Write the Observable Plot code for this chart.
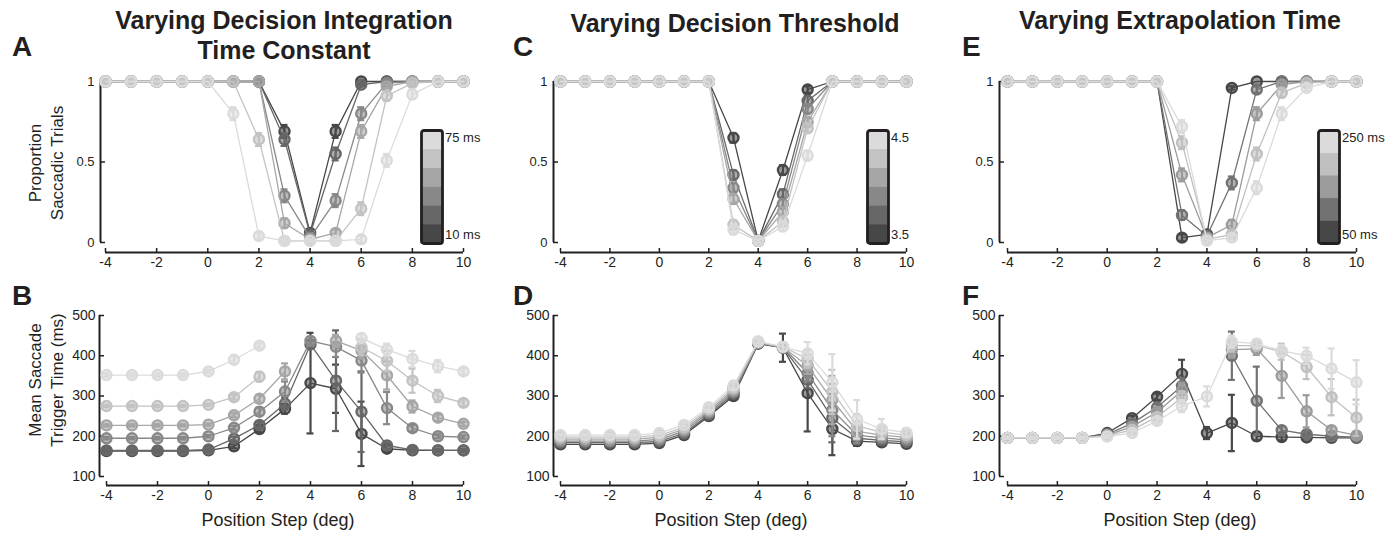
<!DOCTYPE html>
<html>
<head>
<meta charset="utf-8">
<script src="https://cdn.jsdelivr.net/npm/d3@7"></script>
<script src="https://cdn.jsdelivr.net/npm/@observablehq/plot@0.6"></script>
<style>
  html, body { margin: 0; padding: 0; background: #fff; }
  #fig { position: relative; width: 1399px; height: 533px; overflow: hidden; background: #fff;
         font-family: "Liberation Sans", Arial, Helvetica, sans-serif; color: #231f20; }
  #fig svg { position: absolute; overflow: visible; }
  .t { position: absolute; white-space: nowrap; }
</style>
</head>
<body>
<div id="fig"></div>
<script>
// ---------------- DATA ----------------
const positionSteps = [-4, -3, -2, -1, 0, 1, 2, 3, 4, 5, 6, 7, 8, 9, 10];
const xTicks = [-4, -2, 0, 2, 4, 6, 8, 10];
const propTicks = [0, 0.5, 1];
const timeTicks = [100, 200, 300, 400, 500];

const titles = ["Varying Decision Integration<br>Time Constant", "Varying Decision Threshold", "Varying Extrapolation Time"];
const panelLetters = ["A", "B", "C", "D", "E", "F"];
const legendA = ["75 ms", "10 ms"];
const legendC = ["4.5", "3.5"];
const legendE = ["250 ms", "50 ms"];

// grays, dark -> light
const grays6 = ["#474747", "#676767", "#888888", "#a6a6a6", "#c3c3c3", "#dbdbdb"];
const grays5 = ["#474747", "#727272", "#9b9b9b", "#c0c0c0", "#dbdbdb"];

// Panel A: proportion saccadic trials, integration time constant 10 ms (dark) ... 75 ms (light)
const propA = [
  [1, 1, 1, 1, 1, 1, 1, 0.69, 0.06, 0.69, 1.00, 1.00, 1, 1, 1],
  [1, 1, 1, 1, 1, 1, 1, 0.64, 0.05, 0.55, 0.98, 1.00, 1, 1, 1],
  [1, 1, 1, 1, 1, 1, 1, 0.29, 0.03, 0.26, 0.80, 0.99, 1, 1, 1],
  [1, 1, 1, 1, 1, 1, 1, 0.12, 0.02, 0.06, 0.69, 0.97, 1, 1, 1],
  [1, 1, 1, 1, 1, 1, 0.64, 0.01, 0.01, 0.01, 0.21, 0.91, 0.99, 1, 1],
  [1, 1, 1, 1, 1, 0.80, 0.04, 0.01, 0.01, 0.01, 0.02, 0.51, 0.92, 1, 1]
];
const propAErr = [
  [0, 0, 0, 0, 0, 0, 0, 0.04, 0.02, 0.04, 0, 0, 0, 0, 0],
  [0, 0, 0, 0, 0, 0, 0, 0.04, 0.02, 0.04, 0.01, 0, 0, 0, 0],
  [0, 0, 0, 0, 0, 0, 0, 0.04, 0.01, 0.04, 0.04, 0.01, 0, 0, 0],
  [0, 0, 0, 0, 0, 0, 0, 0.03, 0.01, 0.02, 0.04, 0.01, 0, 0, 0],
  [0, 0, 0, 0, 0, 0, 0.04, 0.01, 0.01, 0.01, 0.04, 0.03, 0.01, 0, 0],
  [0, 0, 0, 0, 0, 0.04, 0.02, 0.01, 0.01, 0.01, 0.02, 0.04, 0.03, 0, 0]
];
// Panel B: mean saccade trigger time (ms)
const timeB = [
  [163, 163, 163, 163, 165, 175, 218, 268, 332, 318, 206, 169, 165, 165, 165],
  [165, 165, 165, 165, 167, 194, 228, 281, 428, 338, 261, 177, 166, 165, 165],
  [195, 195, 195, 195, 200, 221, 261, 311, 437, 422, 388, 270, 220, 200, 198],
  [227, 227, 227, 227, 229, 252, 293, 361, null, 437, 413, 351, 274, 246, 231],
  [275, 275, 275, 275, 278, 297, 348, null, null, null, 421, 387, 338, 300, 283],
  [352, 352, 352, 352, 361, 390, 425, null, null, null, 444, 415, 392, 374, 361]
];
const timeBErr = [
  [3, 3, 3, 3, 3, 5, 8, 12, 125, 60, 80, 8, 4, 3, 3],
  [3, 3, 3, 3, 3, 5, 8, 15, 10, 125, 100, 10, 4, 3, 3],
  [3, 3, 3, 3, 3, 5, 10, 25, 10, 25, 30, 40, 8, 5, 4],
  [3, 3, 3, 3, 3, 5, 10, 20, null, 15, 20, 35, 15, 8, 5],
  [3, 3, 3, 3, 3, 6, 12, null, null, null, 20, 25, 30, 15, 8],
  [4, 4, 4, 4, 4, 10, 5, null, null, null, 10, 15, 20, 15, 8]
];
// Panel C: decision threshold 3.5 (dark) ... 4.5 (light)
const propC = [
  [1, 1, 1, 1, 1, 1, 1, 0.65, 0.01, 0.45, 0.95, 1, 1, 1, 1],
  [1, 1, 1, 1, 1, 1, 1, 0.42, 0.01, 0.30, 0.88, 1, 1, 1, 1],
  [1, 1, 1, 1, 1, 1, 1, 0.34, 0.01, 0.24, 0.83, 1, 1, 1, 1],
  [1, 1, 1, 1, 1, 1, 1, 0.27, 0.01, 0.19, 0.75, 1, 1, 1, 1],
  [1, 1, 1, 1, 1, 1, 1, 0.11, 0.01, 0.13, 0.71, 1, 1, 1, 1],
  [1, 1, 1, 1, 1, 1, 1, 0.08, 0.01, 0.10, 0.54, 1, 1, 1, 1]
];
const propCErr = [
  [0, 0, 0, 0, 0, 0, 0, 0.03, 0.01, 0.03, 0.02, 0, 0, 0, 0],
  [0, 0, 0, 0, 0, 0, 0, 0.03, 0.01, 0.03, 0.03, 0, 0, 0, 0],
  [0, 0, 0, 0, 0, 0, 0, 0.03, 0.01, 0.03, 0.03, 0, 0, 0, 0],
  [0, 0, 0, 0, 0, 0, 0, 0.03, 0.01, 0.03, 0.03, 0, 0, 0, 0],
  [0, 0, 0, 0, 0, 0, 0, 0.03, 0.01, 0.03, 0.03, 0, 0, 0, 0],
  [0, 0, 0, 0, 0, 0, 0, 0.03, 0.01, 0.03, 0.03, 0, 0, 0, 0]
];
// Panel D
const timeD = [
  [180, 180, 180, 180, 183, 203, 250, 300, 430, 420, 307, 218, 188, 185, 181],
  [184, 184, 184, 184, 187, 207, 254, 305, 431, 420, 340, 245, 195, 190, 186],
  [188, 188, 188, 188, 192, 212, 259, 310, 432, 421, 357, 265, 203, 196, 191],
  [193, 193, 193, 193, 197, 217, 263, 315, 433, 421, 375, 290, 212, 203, 197],
  [198, 198, 198, 198, 202, 222, 267, 320, 434, 422, 392, 310, 225, 210, 203],
  [203, 203, 203, 203, 208, 228, 272, 326, 436, 422, 406, 334, 242, 218, 209]
];
const timeDErr = [
  [3, 3, 3, 3, 3, 4, 6, 8, 6, 35, 95, 65, 12, 8, 5],
  [3, 3, 3, 3, 3, 4, 6, 8, 5, 10, 20, 60, 15, 10, 5],
  [3, 3, 3, 3, 3, 4, 6, 8, 5, 10, 20, 65, 20, 10, 6],
  [3, 3, 3, 3, 3, 4, 6, 8, 5, 10, 20, 60, 20, 12, 6],
  [3, 3, 3, 3, 3, 4, 6, 8, 5, 10, 22, 55, 30, 15, 8],
  [3, 3, 3, 3, 3, 4, 6, 8, 5, 10, 28, 70, 48, 25, 10]
];
// Panel E: extrapolation time 50 ms (dark) ... 250 ms (light)
const propE = [
  [1, 1, 1, 1, 1, 1, 1, 0.03, 0.05, 0.96, 1.00, 1.00, 1.00, 1, 1],
  [1, 1, 1, 1, 1, 1, 1, 0.17, 0.04, 0.37, 0.95, 1.00, 1.00, 1, 1],
  [1, 1, 1, 1, 1, 1, 1, 0.42, 0.03, 0.11, 0.80, 0.98, 1.00, 1, 1],
  [1, 1, 1, 1, 1, 1, 1, 0.62, 0.02, 0.05, 0.55, 0.93, 0.99, 1, 1],
  [1, 1, 1, 1, 1, 1, 1, 0.72, 0.01, 0.03, 0.34, 0.80, 0.96, 1, 1]
];
const propEErr = [
  [0, 0, 0, 0, 0, 0, 0, 0.02, 0.02, 0.01, 0, 0, 0, 0, 0],
  [0, 0, 0, 0, 0, 0, 0, 0.03, 0.02, 0.04, 0.02, 0, 0, 0, 0],
  [0, 0, 0, 0, 0, 0, 0, 0.04, 0.02, 0.03, 0.04, 0.01, 0, 0, 0],
  [0, 0, 0, 0, 0, 0, 0, 0.04, 0.01, 0.02, 0.04, 0.03, 0.01, 0, 0],
  [0, 0, 0, 0, 0, 0, 0, 0.04, 0.01, 0.02, 0.04, 0.04, 0.02, 0, 0]
];
// Panel F
const timeF = [
  [196, 196, 196, 196, 208, 245, 298, 355, 208, 233, 200, 198, 197, 196, 196],
  [196, 196, 196, 196, 205, 232, 272, 325, null, 400, 288, 215, 205, 200, 198],
  [196, 196, 196, 196, 203, 224, 260, 313, null, 415, 417, 350, 262, 215, 202],
  [196, 196, 196, 196, 201, 216, 248, 297, null, 425, 425, 410, 372, 297, 246],
  [196, 196, 196, 196, 199, 208, 238, 275, 299, 435, 430, 412, 400, 368, 334]
];
const timeFErr = [
  [3, 3, 3, 3, 4, 6, 8, 35, 15, 70, 10, 8, 5, 4, 3],
  [3, 3, 3, 3, 4, 6, 8, 20, null, 60, 85, 10, 6, 5, 4],
  [3, 3, 3, 3, 4, 6, 8, 20, null, 20, 15, 55, 40, 10, 6],
  [3, 3, 3, 3, 4, 6, 8, 15, null, 15, 10, 20, 30, 45, 45],
  [3, 3, 3, 3, 4, 6, 8, 15, 25, 15, 10, 15, 20, 50, 55]
];

// ---------------- DRAWING ----------------
const ink = "#231f20";
const FONT = '"Liberation Sans", Arial, Helvetica, sans-serif';
const fig = document.getElementById("fig");

function addText(html, css) {
  const d = document.createElement("div");
  d.className = "t";
  d.innerHTML = html;
  Object.assign(d.style, css);
  fig.appendChild(d);
  return d;
}

function panel(cfg) {
  const {axisPx, x0, x1, yTop, yBot, fBot, yDomain, yTicks, yFmt, means, errs, colors, yFont, xFont, yPad} = cfg;
  const mL = 48, mR = 14, mT = 12, mB = 34;
  const insetLeft = x0 - axisPx;
  const insetBottom = fBot - yBot;
  const fw = x1 - axisPx, fh = fBot - yTop;
  const marks = [];
  // axis lines
  marks.push(Plot.ruleX([positionSteps[0]], {y1: yDomain[0], y2: yDomain[1], dx: -insetLeft, stroke: ink, strokeWidth: 2}));
  marks.push(Plot.ruleY([yDomain[0]], {x1: positionSteps[0], x2: positionSteps[positionSteps.length - 1], dy: insetBottom, stroke: ink, strokeWidth: 2}));
  // inward ticks
  marks.push(Plot.tickY(yTicks, {y: d => d, insetRight: fw - 5, stroke: ink, strokeWidth: 1.5}));
  marks.push(Plot.tickX(xTicks, {x: d => d, insetTop: fh - 4, stroke: ink, strokeWidth: 1.5}));
  marks.push(Plot.axisY(yTicks, {tickSize: 0, tickPadding: yPad, tickFormat: yFmt, fontSize: yFont, label: null, fill: ink}));
  marks.push(Plot.axisX(xTicks, {tickSize: 0, tickPadding: 5, tickFormat: d => String(d), fontSize: xFont, label: null, fill: ink}));
  // series (dark first, light on top)
  means.forEach((row, i) => {
    const color = colors[i];
    const pts = positionSteps.map((x, j) => ({x, y: row[j], e: errs[i][j]}));
    const eb = pts.filter(d => d.y != null && d.e != null && d.e > 0);
    marks.push(Plot.line(pts, {x: "x", y: "y", stroke: color, strokeWidth: 1.3}));
    marks.push(Plot.dot(pts.filter(d => d.y != null), {x: "x", y: "y", r: 5, stroke: color, strokeWidth: 2.4, fill: color, fillOpacity: 0.55}));
    marks.push(Plot.ruleX(eb, {x: "x", y1: d => d.y - d.e, y2: d => d.y + d.e, stroke: color, strokeWidth: 2.2}));
    marks.push(Plot.ruleY(eb, {y: d => d.y + d.e, x1: "x", x2: "x", insetLeft: -3.5, insetRight: -3.5, stroke: color, strokeWidth: 2.2}));
    marks.push(Plot.ruleY(eb, {y: d => d.y - d.e, x1: "x", x2: "x", insetLeft: -3.5, insetRight: -3.5, stroke: color, strokeWidth: 2.2}));
  });
  const svg = Plot.plot({
    width: mL + fw + mR,
    height: mT + fh + mB,
    marginLeft: mL, marginRight: mR, marginTop: mT, marginBottom: mB,
    x: {type: "linear", domain: [positionSteps[0], positionSteps[positionSteps.length - 1]], insetLeft, insetRight: 0},
    y: {type: "linear", domain: yDomain, insetBottom, insetTop: 0},
    style: {fontFamily: FONT, color: ink, background: "transparent", overflow: "visible"},
    marks
  });
  svg.style.left = (axisPx - mL) + "px";
  svg.style.top = (yTop - mT) + "px";
  svg.style.maxWidth = "none";
  fig.appendChild(svg);
}

function colorbar(left, top, w, h, colors, labels) {
  const m = 2;
  const svg = Plot.plot({
    width: w + 2 * m, height: h + 2 * m, margin: m,
    x: {axis: null},
    y: {axis: null, type: "band", domain: colors.slice().reverse(), padding: 0, round: false},
    color: {type: "identity"},
    style: {background: "transparent", overflow: "visible"},
    marks: [
      Plot.cell(colors, {y: d => d, fill: d => d, inset: -0.3}),
      Plot.frame({stroke: ink, strokeWidth: 2.8, rx: 2.5})
    ]
  });
  svg.style.left = (left - m) + "px";
  svg.style.top = (top - m) + "px";
  svg.style.maxWidth = "none";
  fig.appendChild(svg);
  addText(labels[0], {left: (left + w + 3) + "px", top: (top + 1) + "px", fontSize: "13px", lineHeight: "13px"});
  addText(labels[1], {left: (left + w + 3) + "px", top: (top + h - 15) + "px", fontSize: "13px", lineHeight: "13px"});
}

const topRow = {yTop: 81, yBot: 242, fBot: 252, yDomain: [0, 1], yTicks: propTicks, yFmt: d => String(d), yFont: 13, xFont: 14, yPad: 6};
const botRow = {yTop: 315, yBot: 476, fBot: 485, yDomain: [100, 500], yTicks: timeTicks, yFmt: d => String(d), yFont: 14, xFont: 14, yPad: 4};

panel({...topRow, axisPx: 100, x0: 105, x1: 463, means: propA, errs: propAErr, colors: grays6});
panel({...botRow, axisPx: 99, x0: 106, x1: 463, means: timeB, errs: timeBErr, colors: grays6});
panel({...topRow, axisPx: 553, x0: 560, x1: 906, means: propC, errs: propCErr, colors: grays6});
panel({...botRow, axisPx: 553, x0: 560, x1: 906, means: timeD, errs: timeDErr, colors: grays6});
panel({...topRow, axisPx: 999, x0: 1007, x1: 1356, means: propE, errs: propEErr, colors: grays5});
panel({...botRow, axisPx: 999, x0: 1007, x1: 1356, means: timeF, errs: timeFErr, colors: grays5});

colorbar(421, 130, 21, 113, grays6, legendA);
colorbar(867, 130, 21, 113, grays6, legendC);
colorbar(1318, 130, 21, 113, grays5, legendE);

// titles
const titleCss = {fontWeight: "bold", fontSize: "25px", lineHeight: "30px", textAlign: "center", width: "520px"};
addText(titles[0], {...titleCss, left: (284 - 260) + "px", top: "5px"});
addText(titles[1], {...titleCss, left: (735 - 260) + "px", top: "8px"});
addText(titles[2], {...titleCss, left: (1180 - 260) + "px", top: "5px"});

// panel letters
const letterCss = {fontWeight: "bold", fontSize: "28px", lineHeight: "28px"};
addText(panelLetters[0], {...letterCss, left: "12px", top: "33px"});
addText(panelLetters[1], {...letterCss, left: "12px", top: "282px"});
addText(panelLetters[2], {...letterCss, left: "513px", top: "33px"});
addText(panelLetters[3], {...letterCss, left: "513px", top: "282px"});
addText(panelLetters[4], {...letterCss, left: "962px", top: "33px"});
addText(panelLetters[5], {...letterCss, left: "962px", top: "282px"});

// y-axis titles (rotated)
const ylabCss = {fontSize: "17px", lineHeight: "22px", textAlign: "center", width: "200px", height: "44px", transform: "rotate(-90deg)", transformOrigin: "50% 50%"};
addText("Proportion<br>Saccadic Trials", {...ylabCss, left: (47 - 100) + "px", top: (163 - 22) + "px"});
addText("Mean Saccade<br>Trigger Time (ms)", {...ylabCss, left: (47 - 100) + "px", top: (380 - 22) + "px"});

// x-axis titles
const xlabCss = {fontSize: "18px", lineHeight: "20px", textAlign: "center", width: "300px", top: "510px"};
addText("Position Step (deg)", {...xlabCss, left: (278 - 150) + "px"});
addText("Position Step (deg)", {...xlabCss, left: (731 - 150) + "px"});
addText("Position Step (deg)", {...xlabCss, left: (1180 - 150) + "px"});
</script>
</body>
</html>
